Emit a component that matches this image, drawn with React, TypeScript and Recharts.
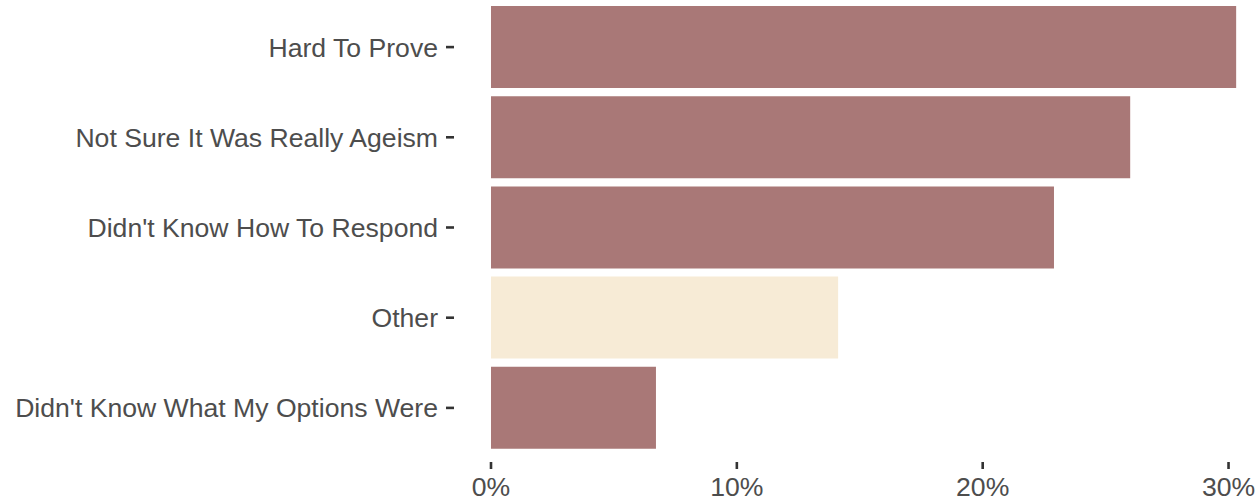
import { Bar, BarChart, Cell, XAxis, YAxis } from "recharts";

const reasons = [
  "Hard To Prove",
  "Not Sure It Was Really Ageism",
  "Didn't Know How To Respond",
  "Other",
  "Didn't Know What My Options Were",
];
const shares = [0.3031, 0.26, 0.229, 0.1412, 0.0671];
const xTicks = [0, 0.1, 0.2, 0.3];

const data = reasons.map((reason, i) => ({ reason, share: shares[i] }));

const textStyle = {
  fill: "#4d4d4d",
  fontSize: 26.6,
  fontFamily: "'Liberation Sans', Arial, sans-serif",
};

const tickLineStyle = { stroke: "#333333", strokeWidth: 2.6 };

export default function App() {
  return (
    <div style={{ position: "absolute", left: 0, top: 0 }}>
      <BarChart
        width={1260}
        height={502}
        data={data}
        layout="vertical"
        margin={{ top: 2, right: 0, bottom: 0, left: 0 }}
        barCategoryGap={4}
      >
        <XAxis
          type="number"
          domain={[-0.01505, 0.3128]}
          allowDataOverflow
          ticks={xTicks}
          tickFormatter={(v) => `${Math.round(v * 100)}%`}
          axisLine={false}
          tickLine={tickLineStyle}
          tickSize={7}
          tickMargin={8}
          height={40}
          tick={textStyle}
        />
        <YAxis
          type="category"
          dataKey="reason"
          width={454}
          axisLine={false}
          tickLine={tickLineStyle}
          tickSize={8}
          tickMargin={8}
          padding={{ top: 0, bottom: 9 }}
          tick={textStyle}
          interval={0}
        />
        <Bar dataKey="share" isAnimationActive={false}>
          {data.map((d) => (
            <Cell
              key={d.reason}
              fill={d.reason === "Other" ? "#f7ebd6" : "#a97877"}
            />
          ))}
        </Bar>
      </BarChart>
    </div>
  );
}
